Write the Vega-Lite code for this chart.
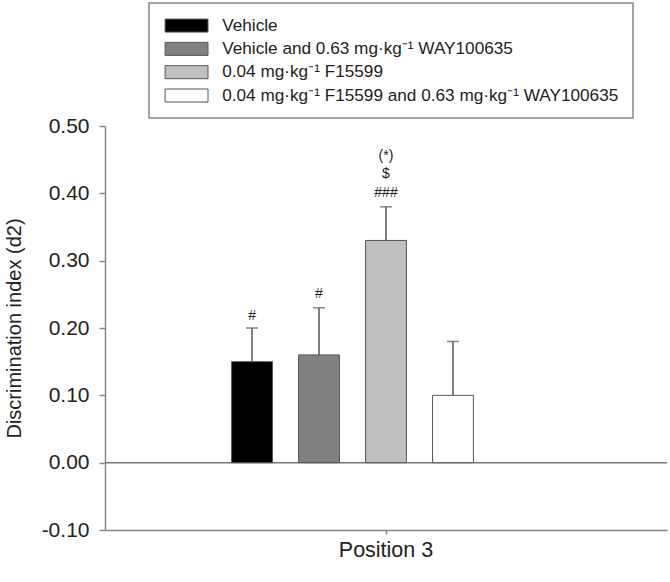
{
  "$schema": "https://vega.github.io/schema/vega-lite/v6.json",
  "autosize": {"type": "none"},
  "width": 562,
  "height": 404,
  "padding": {"left": 105, "top": 126, "right": 3, "bottom": 52},
  "background": "white",
  "config": {
    "font": "Liberation Sans",
    "view": {"stroke": null},
    "axis": {"grid": false, "domainColor": "#888", "domainWidth": 1.5, "tickColor": "#888", "tickWidth": 1.5, "labelColor": "#222", "titleColor": "#222", "labelFont": "Liberation Sans", "titleFont": "Liberation Sans"}
  },
  "datasets": {
    "bars": [
      {"position": "Position 3", "treatment": "Vehicle", "mean": 0.15, "upper": 0.20},
      {"position": "Position 3", "treatment": "Vehicle and 0.63 mg·kg⁻¹ WAY100635", "mean": 0.16, "upper": 0.23},
      {"position": "Position 3", "treatment": "0.04 mg·kg⁻¹ F15599", "mean": 0.33, "upper": 0.38},
      {"position": "Position 3", "treatment": "0.04 mg·kg⁻¹ F15599 and 0.63 mg·kg⁻¹ WAY100635", "mean": 0.10, "upper": 0.18}
    ],
    "notes": [
      {"position": "Position 3", "treatment": "Vehicle", "label": "#", "y": 0.218},
      {"position": "Position 3", "treatment": "Vehicle and 0.63 mg·kg⁻¹ WAY100635", "label": "#", "y": 0.250},
      {"position": "Position 3", "treatment": "0.04 mg·kg⁻¹ F15599", "label": "###", "y": 0.400},
      {"position": "Position 3", "treatment": "0.04 mg·kg⁻¹ F15599", "label": "$", "y": 0.429},
      {"position": "Position 3", "treatment": "0.04 mg·kg⁻¹ F15599", "label": "(*)", "y": 0.456}
    ],
    "zero": [{"v": 0}]
  },
  "layer": [
    {
      "data": {"name": "zero"},
      "mark": {"type": "rule", "color": "#777", "strokeWidth": 1.5},
      "encoding": {"y": {"field": "v", "type": "quantitative", "scale": {"domain": [-0.1, 0.5], "nice": false},
        "axis": {"title": "Discrimination index (d2)", "values": [-0.1, 0, 0.1, 0.2, 0.3, 0.4, 0.5], "labelExpr": "datum.value < 0 ? '-' + format(-datum.value, '.2f') : format(datum.value, '.2f')", "labelFontSize": 21, "titleFontSize": 20, "titleFontWeight": "normal", "tickSize": 6, "labelPadding": 10, "titlePadding": 17}}}
    },
    {
      "data": {"name": "bars"},
      "encoding": {
        "x": {
          "field": "position", "type": "nominal",
          "scale": {"paddingOuter": 0.339, "paddingInner": 0},
          "axis": {"title": null, "labelAngle": 0, "labelFontSize": 21.5, "tickSize": 4, "labelPadding": 5}
        },
        "xOffset": {
          "field": "treatment", "type": "nominal",
          "scale": {
            "domain": ["Vehicle", "Vehicle and 0.63 mg·kg⁻¹ WAY100635", "0.04 mg·kg⁻¹ F15599", "0.04 mg·kg⁻¹ F15599 and 0.63 mg·kg⁻¹ WAY100635", "(empty)"],
            "paddingInner": 0.39, "paddingOuter": 0.195
          }
        }
      },
      "layer": [
        {
          "mark": {"type": "bar", "stroke": "#555", "strokeWidth": 1},
          "encoding": {
            "y": {"field": "mean", "type": "quantitative"},
            "color": {
              "field": "treatment", "type": "nominal",
              "scale": {
                "domain": ["Vehicle", "Vehicle and 0.63 mg·kg⁻¹ WAY100635", "0.04 mg·kg⁻¹ F15599", "0.04 mg·kg⁻¹ F15599 and 0.63 mg·kg⁻¹ WAY100635"],
                "range": ["#000000", "#808080", "#c0c0c0", "#ffffff"]
              },
              "legend": {
                "orient": "none", "legendX": 44, "legendY": -123, "title": null,
                "symbolType": "M-1,-1L5.6,-1L5.6,1L-1,1Z", "symbolSize": 169,
                "symbolStrokeColor": "#555", "symbolStrokeWidth": 1, "symbolOpacity": 1,
                "labelFontSize": 17.2, "labelColor": "#222", "labelOffset": 42, "labelLimit": 600,
                "rowPadding": 4.3, "padding": 14, "strokeColor": "#888", "fillColor": "white",
                "encode": {"legend": {"update": {"strokeWidth": {"value": 1.5}}}}
              }
            }
          }
        },
        {
          "mark": {"type": "rule", "color": "#555", "strokeWidth": 1.5},
          "encoding": {
            "y": {"field": "mean", "type": "quantitative"},
            "y2": {"field": "upper"}
          }
        },
        {
          "mark": {"type": "tick", "color": "#555", "thickness": 1.5, "size": 12},
          "encoding": {"y": {"field": "upper", "type": "quantitative"}}
        },
        {
          "data": {"name": "notes"},
          "mark": {"type": "text", "fontSize": 14, "color": "#222", "baseline": "middle"},
          "encoding": {
            "y": {"field": "y", "type": "quantitative"},
            "text": {"field": "label"}
          }
        }
      ]
    }
  ]
}
